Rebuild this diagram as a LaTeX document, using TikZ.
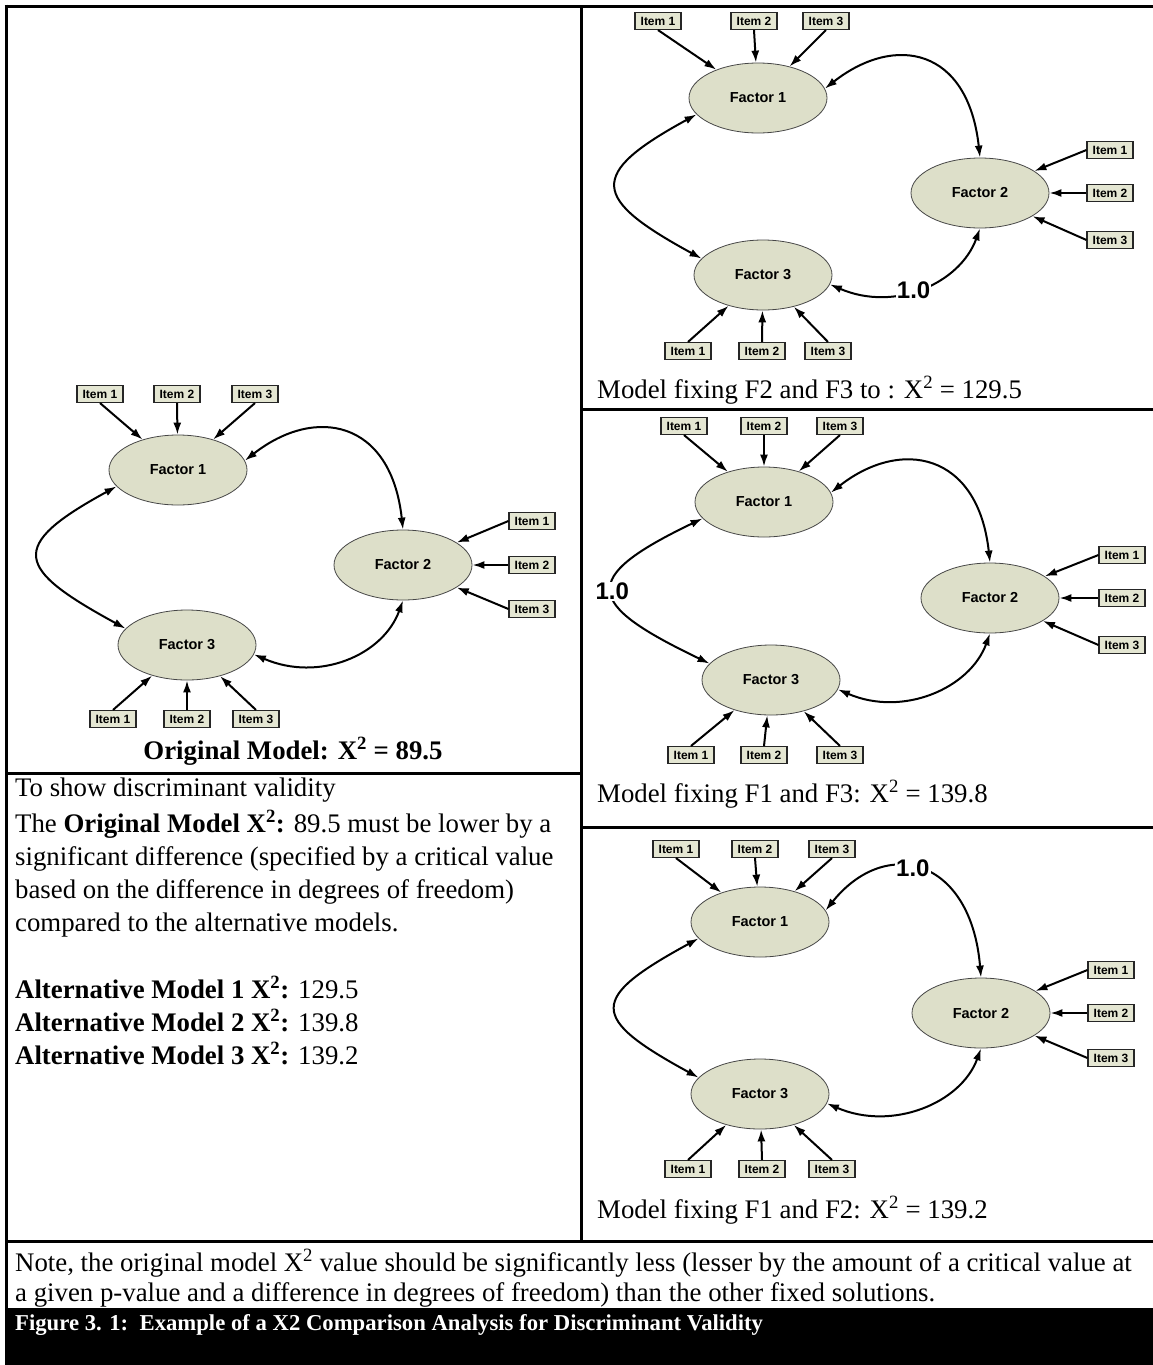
\documentclass[tikz,border=0pt]{standalone}
\usepackage{fontspec}
\setmainfont{Liberation Serif}
\newfontfamily\diagfont{Liberation Sans}
\usetikzlibrary{arrows.meta,shapes.geometric}
\definecolor{factorfill}{RGB}{221,223,201}
\definecolor{itemfill}{RGB}{228,230,210}
\definecolor{edgegray}{RGB}{70,70,70}
\newcommand{\Xsq}{X\textsuperscript{2}}
\begin{document}
\begin{tikzpicture}[x=1pt,y=-1pt,
  factor/.style={ellipse, draw=edgegray, line width=0.8pt, fill=factorfill,
    minimum width=138pt, minimum height=70pt, inner sep=0pt,
    font=\diagfont\bfseries\fontsize{14.5}{16}\selectfont},
  item/.style={rectangle, draw=black!85, line width=1.1pt, fill=itemfill,
    minimum width=46pt, minimum height=17pt, inner sep=0pt,
    font=\diagfont\bfseries\fontsize{12}{13}\selectfont},
  load/.style={-{Latex[length=12pt,width=8pt]}, line width=2pt},
  cov/.style={{Latex[length=12pt,width=8pt]}-{Latex[length=12pt,width=8pt]}, line width=2pt},
  fixval/.style={fill=white, inner sep=1pt, font=\diagfont\bfseries\fontsize{24}{26}\selectfont},
  rule/.style={line width=3pt},
  body/.style={anchor=base west, inner sep=0pt, font=\fontsize{26.8}{32}\selectfont},
]
\useasboundingbox (0,0) rectangle (1153,1365);

% table rules
\draw[rule] (4.5,6) -- (1153,6);
\draw[rule] (6,4.5) -- (6,1310);
\draw[rule] (581,6) -- (581,1241);
\draw[rule] (6,773) -- (581,773);
\draw[rule] (581,409) -- (1153,409);
\draw[rule] (581,827) -- (1153,827);
\draw[rule] (6,1241) -- (1153,1241);
\fill (4.5,1308) rectangle (1153,1365);

% ---- original model ----
\node[factor] (a-f1) at (178,470) {Factor 1};
\node[factor] (a-f2) at (403,565) {Factor 2};
\node[factor] (a-f3) at (187,645) {Factor 3};
\node[item] (a-t1) at (100,394) {Item 1};
\node[item] (a-t2) at (177,394) {Item 2};
\node[item] (a-t3) at (255,394) {Item 3};
\node[item] (a-r1) at (532,521) {Item 1};
\node[item] (a-r2) at (532,565) {Item 2};
\node[item] (a-r3) at (532,609) {Item 3};
\node[item] (a-b1) at (113,719) {Item 1};
\node[item] (a-b2) at (187,719) {Item 2};
\node[item] (a-b3) at (256,719) {Item 3};

% ---- F2 and F3 fixed ----
\node[factor] (b-f1) at (758,98) {Factor 1};
\node[factor] (b-f2) at (980,193) {Factor 2};
\node[factor] (b-f3) at (763,275) {Factor 3};
\node[item] (b-t1) at (658,21) {Item 1};
\node[item] (b-t2) at (754,21) {Item 2};
\node[item] (b-t3) at (826,21) {Item 3};
\node[item] (b-r1) at (1110,150) {Item 1};
\node[item] (b-r2) at (1110,193) {Item 2};
\node[item] (b-r3) at (1110,240) {Item 3};
\node[item] (b-b1) at (688,351) {Item 1};
\node[item] (b-b2) at (762,351) {Item 2};
\node[item] (b-b3) at (828,351) {Item 3};

% ---- F1 and F3 fixed ----
\node[factor] (c-f1) at (764,502) {Factor 1};
\node[factor] (c-f2) at (990,598) {Factor 2};
\node[factor] (c-f3) at (771,680) {Factor 3};
\node[item] (c-t1) at (684,426) {Item 1};
\node[item] (c-t2) at (764,426) {Item 2};
\node[item] (c-t3) at (840,426) {Item 3};
\node[item] (c-r1) at (1122,555) {Item 1};
\node[item] (c-r2) at (1122,598) {Item 2};
\node[item] (c-r3) at (1122,645) {Item 3};
\node[item] (c-b1) at (691,755) {Item 1};
\node[item] (c-b2) at (764,755) {Item 2};
\node[item] (c-b3) at (840,755) {Item 3};

% ---- F1 and F2 fixed ----
\node[factor] (d-f1) at (760,922) {Factor 1};
\node[factor] (d-f2) at (981,1013) {Factor 2};
\node[factor] (d-f3) at (760,1094) {Factor 3};
\node[item] (d-t1) at (676,849) {Item 1};
\node[item] (d-t2) at (755,849) {Item 2};
\node[item] (d-t3) at (832,849) {Item 3};
\node[item] (d-r1) at (1111,970) {Item 1};
\node[item] (d-r2) at (1111,1013) {Item 2};
\node[item] (d-r3) at (1111,1058) {Item 3};
\node[item] (d-b1) at (688,1169) {Item 1};
\node[item] (d-b2) at (762,1169) {Item 2};
\node[item] (d-b3) at (832,1169) {Item 3};

% factor loadings
\foreach \p in {a,b,c,d}{
  \foreach \i in {1,2,3}{
    \draw[load] (\p-t\i.south) -- (\p-f1);
    \draw[load] (\p-r\i.west) -- (\p-f2);
    \draw[load] (\p-b\i.north) -- (\p-f3);
  }
}

% covariances
\foreach \p in {a,b,c}{
  \draw[cov] (\p-f1.8) .. controls +(70,-55) and +(-12,-110) .. (\p-f2.north);
}
\draw[cov] (d-f1.10) .. controls +(60,-75) and +(-10,-120) .. (d-f2.north)
  node[fixval, pos=0.45] {1.0};

\foreach \p in {a,b,d}{
  \draw[cov] (\p-f1.195) .. controls +(-110,60) and +(-110,-60) .. (\p-f3.165);
}
\draw[cov] (c-f1.195) .. controls +(-125,60) and +(-125,-60) .. (c-f3.165)
  node[fixval, pos=0.5] {1.0};

\foreach \p in {a,c,d}{
  \draw[cov] (\p-f3.-8) .. controls +(65,28) and +(-20,55) .. (\p-f2.south);
}
\draw[cov] (b-f3.-8) .. controls +(65,28) and +(-20,55) .. (b-f2.south)
  node[fixval, pos=0.45] {1.0};

% captions
\node[anchor=base, inner sep=0pt, font=\bfseries\fontsize{26.8}{32}\selectfont] (a-cap) at (293,759) {Original Model: \Xsq{} = 89.5};
\node[body] (b-cap) at (597,398) {Model fixing F2 and F3 to : \Xsq{} = 129.5};
\node[body] (c-cap) at (597,802) {Model fixing F1 and F3: \Xsq{} = 139.8};
\node[body] (d-cap) at (597,1218) {Model fixing F1 and F2: \Xsq{} = 139.2};

% explanation
\node[body] (e1) at (15,796) {To show discriminant validity};
\node[body] (e2) at (15,832) {The \textbf{Original Model \Xsq:} 89.5 must be lower by a};
\node[body] (e3) at (15,865) {significant difference (specified by a critical value};
\node[body] (e4) at (15,898) {based on the difference in degrees of freedom)};
\node[body] (e5) at (15,931) {compared to the alternative models.};
\node[body] (e6) at (15,998) {\textbf{Alternative Model 1 \Xsq:} 129.5};
\node[body] (e7) at (15,1031) {\textbf{Alternative Model 2 \Xsq:} 139.8};
\node[body] (e8) at (15,1064) {\textbf{Alternative Model 3 \Xsq:} 139.2};

% note and figure title
\node[body] (n1) at (15,1271) {Note, the original model \Xsq{} value should be significantly less (lesser by the amount of a critical value at};
\node[body] (n2) at (15,1301) {a given p-value and a difference in degrees of freedom) than the other fixed solutions.};
\node[anchor=base west, inner sep=0pt, text=white, font=\bfseries\fontsize{22.7}{26}\selectfont] (fig) at (15,1330) {Figure 3. 1:\ \ Example of a X2 Comparison Analysis for Discriminant Validity};
\end{tikzpicture}
\end{document}
